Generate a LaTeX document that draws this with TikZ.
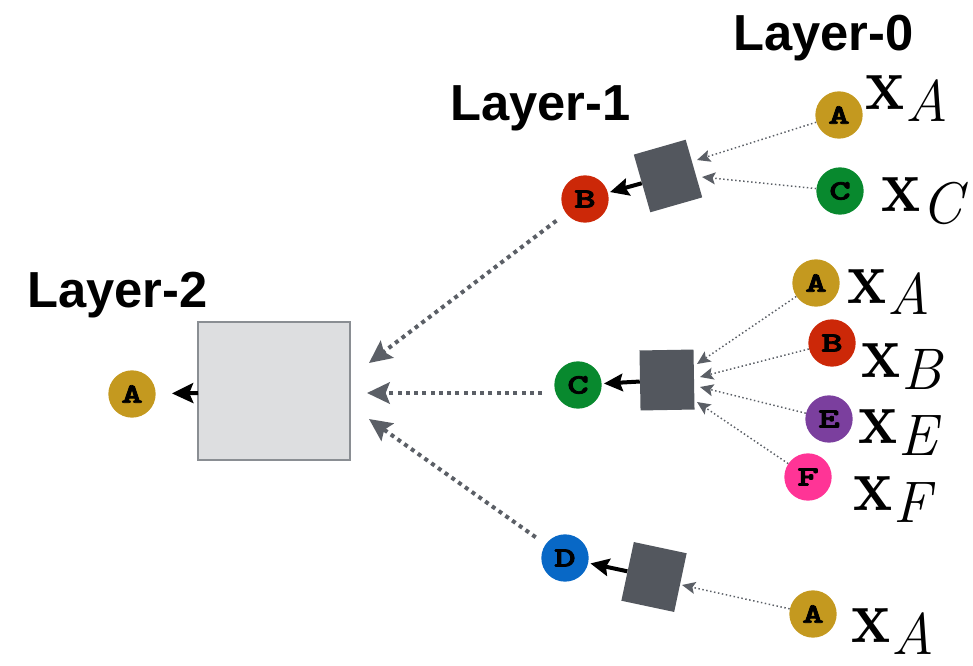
\documentclass[tikz,border=0pt]{standalone}
\usepackage{fontspec}
\usepackage{graphicx}
\usetikzlibrary{arrows.meta}

\newfontfamily\titlefont{Liberation Sans}
\newfontfamily\keyfont{lmmonolt10-bold.otf}[FakeBold=2.5]

\definecolor{keygold}{HTML}{C4991F}
\definecolor{keyred}{HTML}{CC2808}
\definecolor{keygreen}{HTML}{08892E}
\definecolor{keyblue}{HTML}{0868C6}
\definecolor{keypurple}{HTML}{7B3F9E}
\definecolor{keypink}{HTML}{FF3496}
\definecolor{slate}{HTML}{53575E}
\definecolor{boxfill}{HTML}{DDDEE0}
\definecolor{boxline}{HTML}{8A8E93}
\definecolor{edgegray}{HTML}{5B5F66}

\newcommand\keytext[1]{\scalebox{1.45}[1]{\keyfont\fontsize{21}{21}\selectfont #1}}
\newcommand\featlbl[1]{\scalebox{0.95}[1.1]{\fontsize{52}{52}\selectfont\bfseries x}\kern0.5pt\raisebox{-9pt}{\fontsize{44}{44}\selectfont\itshape #1}}

\tikzset{
  keycirc/.style={circle, draw=none, minimum size=35.5pt, inner sep=0pt},
  sqbox/.style={rectangle, fill=slate, draw=none, minimum width=40.5pt, minimum height=45pt, inner sep=0pt},
  bigbox/.style={rectangle, fill=boxfill, draw=boxline, line width=0.9pt, minimum width=114pt, minimum height=103.5pt, inner sep=0pt},
  layertitle/.style={anchor=base west, inner sep=0pt, font=\titlefont\bfseries\fontsize{38}{38}\selectfont},
  feat/.style={anchor=base west, inner sep=0pt},
  inedge/.style={edgegray, line width=1.1pt, dash pattern=on 1.1pt off 1.9pt,
    -{Stealth[length=10pt, width=9pt, inset=2pt]}},
  aggedge/.style={edgegray, line width=3pt, dash pattern=on 3pt off 3.2pt, shorten <=9pt,
    -{Stealth[length=17pt, width=16pt, inset=3pt]}},
  outedge/.style={black, line width=3pt, -{Stealth[length=14pt, width=13pt, inset=2pt]}, shorten >=1.5pt},
}

\begin{document}
\begin{tikzpicture}[x=0.75pt, y=-0.75pt]
  \useasboundingbox (0,0) rectangle (973,666);

  % layer titles
  \node[layertitle] (t0) at (733,51) {Layer-0};
  \node[layertitle] (t1) at (450,121) {Layer-1};
  \node[layertitle] (t2) at (27,307) {Layer-2};

  % layer 2
  \node[keycirc, fill=keygold] (a2) at (132,394) {\keytext{A}};
  \node[bigbox] (agg) at (274,391) {};
  \coordinate (aggout) at (198,393);

  % layer 1
  \node[keycirc, fill=keyred]   (b1) at (585,199) {\keytext{B}};
  \node[keycirc, fill=keygreen] (c1) at (578,385) {\keytext{C}};
  \node[keycirc, fill=keyblue]  (d1) at (565,558) {\keytext{D}};

  \node[sqbox, rotate=16]  (sb) at (668,176) {};
  \node[sqbox, rotate=1]   (sc) at (667,380) {};
  \node[sqbox, rotate=-12] (sd) at (654,577) {};

  % layer 0
  \node[keycirc, fill=keygold]   (a0t) at (839,115) {\keytext{A}};
  \node[keycirc, fill=keygreen]  (c0t) at (840,191) {\keytext{C}};
  \node[keycirc, fill=keygold]   (a0m) at (816,283) {\keytext{A}};
  \node[keycirc, fill=keyred]    (b0m) at (832,343) {\keytext{B}};
  \node[keycirc, fill=keypurple] (e0m) at (829,419) {\keytext{E}};
  \node[keycirc, fill=keypink]   (f0m) at (808,477) {\keytext{F}};
  \node[keycirc, fill=keygold]   (a0b) at (813,614) {\keytext{A}};

  % feature labels
  \node[feat] (xa1) at (865,110) {\featlbl{A}};
  \node[feat] (xc1) at (881,212) {\featlbl{C}};
  \node[feat] (xa2) at (847,303) {\featlbl{A}};
  \node[feat] (xb2) at (861,377) {\featlbl{B}};
  \node[feat] (xe2) at (858,443) {\featlbl{E}};
  \node[feat] (xf2) at (853,510) {\featlbl{F}};
  \node[feat] (xa3) at (851,642) {\featlbl{A}};

  % arrow targets on the square aggregators
  \coordinate (pb1) at (697,160);
  \coordinate (pb2) at (702,177);
  \coordinate (pc1) at (697,364);
  \coordinate (pc2) at (700,377);
  \coordinate (pc3) at (700,387);
  \coordinate (pc4) at (697,402);
  \coordinate (pd1) at (682,585);

  % arrow targets on the big aggregator
  \coordinate (gb) at (369,363);
  \coordinate (gc) at (367,393);
  \coordinate (gd) at (369,419);

  % layer 0 -> layer 1
  \draw[inedge] (a0t) -- (pb1);
  \draw[inedge] (c0t) -- (pb2);
  \draw[inedge] (a0m) -- (pc1);
  \draw[inedge] (b0m) -- (pc2);
  \draw[inedge] (e0m) -- (pc3);
  \draw[inedge] (f0m) -- (pc4);
  \draw[inedge] (a0b) -- (pd1);

  % square aggregators -> layer 1 nodes
  \draw[outedge] (sb) -- (b1);
  \draw[outedge] (sc) -- (c1);
  \draw[outedge] (sd) -- (d1);

  % layer 1 -> layer 2
  \draw[aggedge] (b1) -- (gb);
  \draw[aggedge] (c1.west |- gc) -- (gc);
  \draw[aggedge] (d1) -- (gd);

  % big aggregator -> layer 2 node
  \draw[outedge, shorten >=12pt, -{Stealth[length=16pt, width=15pt, inset=3pt]}] (aggout) -- (a2);
\end{tikzpicture}
\end{document}
